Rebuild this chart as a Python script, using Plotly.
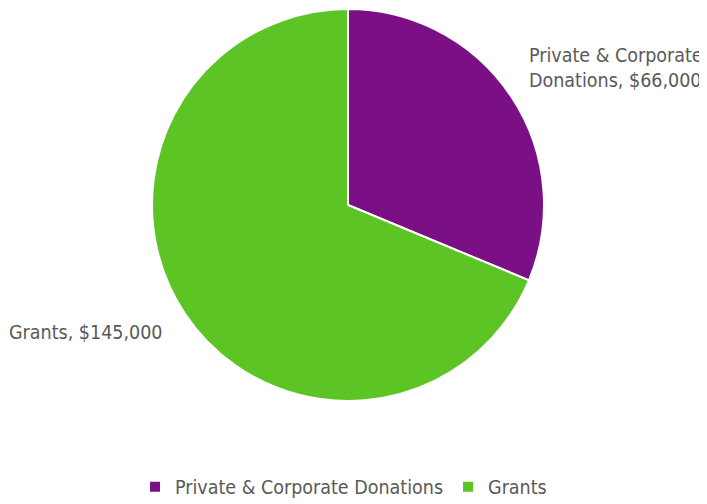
import plotly.graph_objects as go

labels = ["Private & Corporate Donations", "Grants"]
values = [66000, 145000]
colors = ["#7B1086", "#5CC424"]
label_text = ["Private & Corporate<br>Donations, $66,000", "Grants, $145,000"]

FONT = "DejaVu Sans Condensed, Liberation Sans Narrow, sans-serif"
GREY = "#595959"
W, H = 707, 504
OFF = 8  # page body margin

def px(x):
    return (x - OFF) / W

def py(y):
    return 1 - (y - OFF) / H

fig = go.Figure(go.Pie(
    labels=labels,
    values=values,
    marker=dict(colors=colors, line=dict(color="white", width=2)),
    sort=False,
    direction="clockwise",
    rotation=0,
    textinfo="none",
    hoverinfo="label+value",
    domain=dict(x=[px(152), px(544)], y=[py(401), py(9)]),
))

fig.add_annotation(x=px(527), y=py(68), xref="paper", yref="paper",
                   text=label_text[0], showarrow=False, xanchor="left", yanchor="middle",
                   align="left", font=dict(family=FONT, size=19.5, color=GREY))
fig.add_annotation(x=px(7), y=py(332), xref="paper", yref="paper",
                   text=label_text[1], showarrow=False, xanchor="left", yanchor="middle",
                   align="left", font=dict(family=FONT, size=19.5, color=GREY))

fig.update_layout(
    width=W, height=H,
    margin=dict(l=0, r=0, t=0, b=0),
    paper_bgcolor="white",
    plot_bgcolor="white",
    font=dict(family=FONT, size=19.5, color=GREY),
    showlegend=True,
    legend=dict(orientation="h", x=px(135), xanchor="left", y=py(487), yanchor="middle",
                font=dict(family=FONT, size=19.5, color=GREY)),
)

fig.write_html("out.html")
